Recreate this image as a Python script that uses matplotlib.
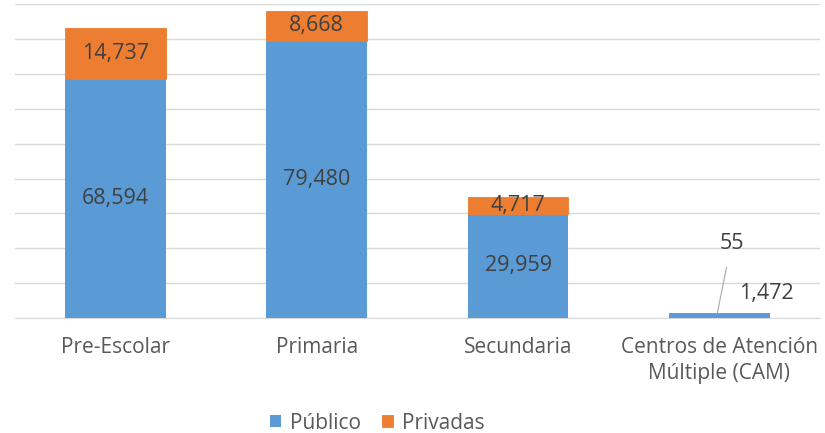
import numpy as np
import matplotlib
matplotlib.use("Agg")
import matplotlib.pyplot as plt

categories = ["Pre-Escolar", "Primaria", "Secundaria", "Centros de Atención\nMúltiple (CAM)"]
publico = [68594, 79480, 29959, 1472]
privadas = [14737, 8668, 4717, 55]
series_names = ["Público", "Privadas"]

blue = "#5B9BD5"
orange = "#ED7D31"
text_color = "#404040"

plt.rcParams["font.family"] = ["Open Sans", "DejaVu Sans"]

fig = plt.figure(figsize=(8.25, 4.33), dpi=100)
ax = fig.add_axes([0.018, 0.2656, 0.976, 0.7244])

x = np.arange(len(categories))
bars_pub = ax.bar(x, publico, width=0.5, color=blue, label=series_names[0], zorder=3)
bars_priv = ax.bar(x, privadas, width=0.5, bottom=publico, color=orange, label=series_names[1],
                   zorder=3, edgecolor=orange, linewidth=0.6)

ax.set_xlim(-0.5, len(categories) - 0.5)
ax.set_ylim(0, 90000)
ax.set_yticks(np.arange(0, 90001, 10000))
ax.yaxis.grid(True, color="#D9D9D9", linewidth=1, zorder=0)
ax.tick_params(axis="y", left=False, labelleft=False)
ax.tick_params(axis="x", bottom=False, labelsize=15, labelcolor="#595959", pad=10)
ax.set_xticks(x)
ax.set_xticklabels(categories, linespacing=1.3)
for side in ["top", "right", "left"]:
    ax.spines[side].set_visible(False)
ax.spines["bottom"].set_color("#D9D9D9")

# labels inside the big bars
for i in range(3):
    ax.text(x[i], publico[i] / 2, f"{publico[i]:,}", ha="center", va="center",
            fontsize=15.5, color=text_color, zorder=4)
    ax.text(x[i], publico[i] + privadas[i] / 2, f"{privadas[i]:,}", ha="center", va="center",
            fontsize=15.5, color=text_color, zorder=4)

# CAM labels moved outside with a leader line
i = 3
ax.annotate(f"{privadas[i]:,}", xy=(x[i] - 0.01, publico[i] + privadas[i]), xytext=(x[i] + 0.06, 21500),
            ha="center", va="center", fontsize=15.5, color=text_color,
            arrowprops=dict(arrowstyle="-", color="#A6A6A6", lw=0.8, shrinkA=8, shrinkB=0))
ax.text(x[i] + 0.1, 7000, f"{publico[i]:,}", ha="left", va="center",
        fontsize=15.5, color=text_color)

fig.legend(handles=[bars_pub, bars_priv], labels=series_names, loc="center",
           bbox_to_anchor=(0.4576, 0.023), ncol=2, frameon=False, fontsize=15,
           labelcolor="#595959", handlelength=0.52, handleheight=0.52,
           columnspacing=1.0, handletextpad=0.45)

fig.savefig("out.png", dpi=100)
